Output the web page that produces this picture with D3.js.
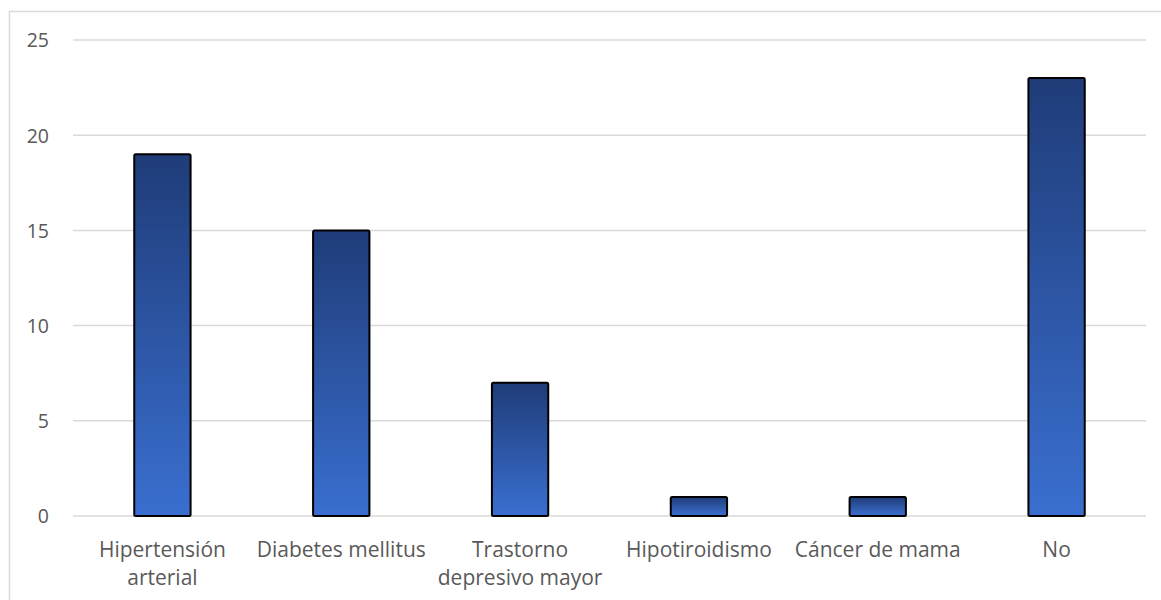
<!DOCTYPE html>
<html>
<head>
<meta charset="utf-8">
<script src="https://cdn.jsdelivr.net/npm/d3@7"></script>
<style>
  html, body { margin: 0; padding: 0; background: #fff; }
  svg { display: block; }
</style>
</head>
<body>
<svg id="chart" width="1161" height="600"></svg>
<script>
// Comorbidities and patient counts
const categories = [
  ["Hipertensión", "arterial"],
  ["Diabetes mellitus"],
  ["Trastorno", "depresivo mayor"],
  ["Hipotiroidismo"],
  ["Cáncer de mama"],
  ["No"]
];
const values = [19, 15, 7, 1, 1, 23];
const yTicks = [0, 5, 10, 15, 20, 25];

const svg = d3.select("#chart");
const W = 1161, H = 600;
const plot = { left: 73, right: 1146, top: 40, bottom: 516 };
const font = "'Open Sans', sans-serif";

// Outer chart frame
svg.append("rect")
  .attr("x", 9.5).attr("y", 11.5)
  .attr("width", W + 20).attr("height", H + 20)
  .attr("fill", "#fff").attr("stroke", "#d9d9d9").attr("stroke-width", 1.5);

// Vertical gradient for bars, dark at the top
const defs = svg.append("defs");
const grad = defs.append("linearGradient")
  .attr("id", "barGrad").attr("x1", 0).attr("y1", 0).attr("x2", 0).attr("y2", 1);
grad.append("stop").attr("offset", "0%").attr("stop-color", "#1f3c78");
grad.append("stop").attr("offset", "100%").attr("stop-color", "#3a6fd0");

const x = d3.scaleBand()
  .domain(d3.range(categories.length))
  .range([plot.left, plot.right])
  .padding(0);

const y = d3.scaleLinear()
  .domain([0, 25])
  .range([plot.bottom, plot.top]);

// Horizontal gridlines
svg.append("g")
  .selectAll("line")
  .data(yTicks)
  .join("line")
  .attr("x1", plot.left).attr("x2", plot.right)
  .attr("y1", d => y(d)).attr("y2", d => y(d))
  .attr("stroke", "#d9d9d9").attr("stroke-width", 1.5);

// Y-axis labels
const yAxis = d3.axisLeft(y).tickValues(yTicks).tickSize(0).tickPadding(0);
const gy = svg.append("g")
  .attr("transform", `translate(${plot.left - 24},0)`)
  .call(yAxis);
gy.select(".domain").remove();
gy.selectAll("text")
  .attr("fill", "#595959")
  .style("font-family", font)
  .style("font-size", "19.5px")
  .attr("dy", "0.35em");

// Bars
const barW = x.bandwidth() * 0.315;
svg.append("g")
  .selectAll("rect")
  .data(values)
  .join("rect")
  .attr("x", (d, i) => x(i) + (x.bandwidth() - barW) / 2)
  .attr("y", d => y(d))
  .attr("width", barW)
  .attr("height", d => y(0) - y(d))
  .attr("rx", 1.5)
  .attr("fill", "url(#barGrad)")
  .attr("stroke", "#000")
  .attr("stroke-width", 2);

// Category labels, possibly on two lines
const xl = svg.append("g")
  .selectAll("text")
  .data(categories)
  .join("text")
  .attr("x", (d, i) => x(i) + x.bandwidth() / 2)
  .attr("y", 557)
  .attr("text-anchor", "middle")
  .attr("fill", "#595959")
  .style("font-family", font)
  .style("font-size", "21px");
xl.selectAll("tspan")
  .data(d => d)
  .join("tspan")
  .attr("x", function () { return d3.select(this.parentNode).attr("x"); })
  .attr("dy", (d, i) => i === 0 ? 0 : 28)
  .text(d => d);
</script>
</body>
</html>
